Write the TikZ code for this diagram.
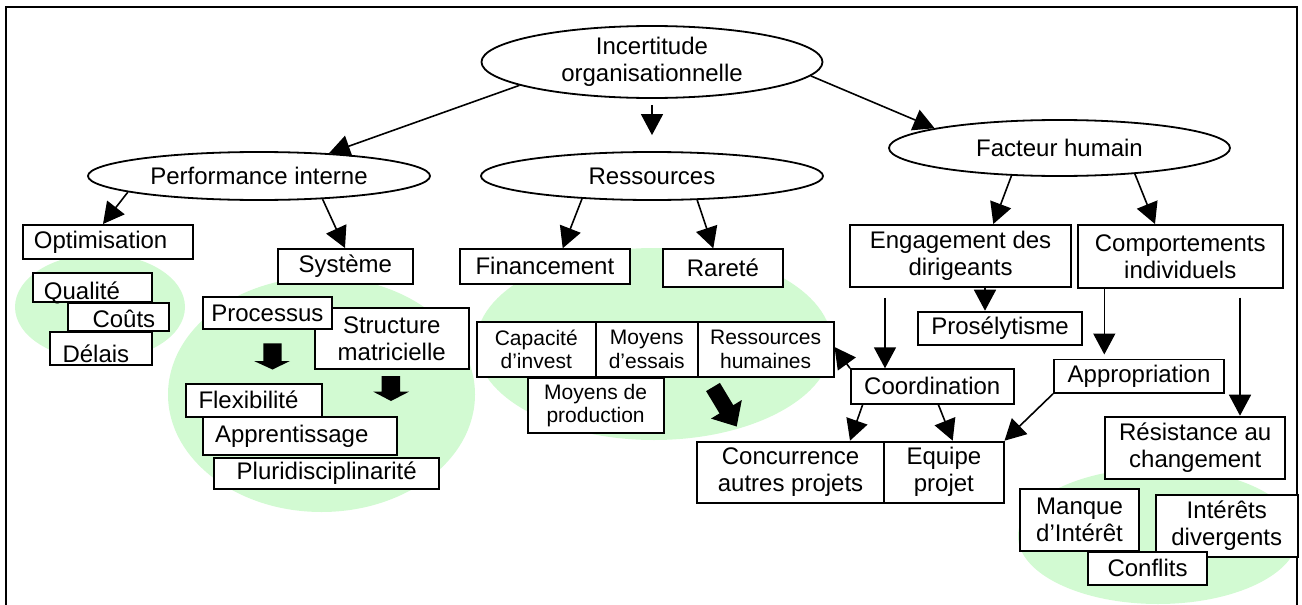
\documentclass[tikz,border=0pt]{standalone}
\usepackage{fontspec}
\setmainfont{Liberation Sans}
\usetikzlibrary{shapes.geometric,arrows.meta,calc}
\definecolor{pale}{RGB}{210,250,210}
\begin{document}
\begin{tikzpicture}[x=0.5pt,y=-0.5pt,
  every node/.style={font=\fontsize{12pt}{13.5pt}\selectfont},
  bx/.style={draw, fill=white, line width=0.9pt, inner sep=0pt, anchor=north west, align=center},
  sm/.style={font=\fontsize{10.5pt}{11.8pt}\selectfont},
  el/.style={ellipse, draw, fill=white, line width=0.9pt, inner sep=0pt, align=center},
  arr/.style={line width=0.8pt, -{Triangle[length=10.5pt,width=11pt]}}]
\useasboundingbox (0,0) rectangle (1302,605);
% green backgrounds
\fill[pale] (100,307) ellipse [x radius=42.5pt, y radius=26.5pt];
\fill[pale] (321.5,394.5) ellipse [x radius=76.75pt, y radius=58.75pt];
\fill[pale] (654,344) ellipse [x radius=89pt, y radius=48pt];
\fill[pale] (1158,536) ellipse [x radius=70pt, y radius=34pt];
% frame
\draw[line width=1pt] (6,606) -- (6,7) -- (1297,7) -- (1297,606);
% ellipses
\node[el, minimum width=170.5pt, minimum height=36pt] (inc) at (652,62) {Incertitude\\organisationnelle};
\node[el, minimum width=171pt, minimum height=24pt] (perf) at (259,176) {Performance interne};
\node[el, minimum width=171pt, minimum height=24pt] (res) at (652,176) {Ressources};
\node[el, minimum width=170.5pt, minimum height=28pt] (fac) at (1059.5,148) {Facteur humain};
% left group
\node[bx, minimum width=85pt, minimum height=17pt, text width=74pt, inner xsep=5.5pt, align=left] (opt) at (22,224) {Optimisation};
\node[bx, minimum width=59.5pt, minimum height=14.5pt, text width=48.5pt, inner xsep=5.5pt, align=left, text height=13.5pt, text depth=1pt] (qua) at (32,272) {Qualité};
\node[bx, minimum width=50.8pt, minimum height=14.2pt, text width=36.8pt, inner xsep=7pt, align=right, text height=12.6pt, text depth=1.6pt] (cou) at (66.7,301.7) {Coûts};
\node[bx, minimum width=50.85pt, minimum height=16.65pt, text width=38.25pt, inner xsep=6.3pt, align=left, text height=15.5pt, text depth=1.15pt] (del) at (49,330.7) {Délais};
% system group
\node[bx, minimum width=67.5pt, minimum height=17.5pt] (sys) at (277,248) {Système};
\node[bx, minimum width=76.85pt, minimum height=30.8pt] (str) at (314,306.7) {Structure\\matricielle};
\node[bx, minimum width=64.5pt, minimum height=16pt] (pro) at (202,296) {Processus};
\node[bx, minimum width=67.85pt, minimum height=16.65pt, text width=55.25pt, inner xsep=6.3pt, align=left] (fle) at (185,382.7) {Flexibilité};
\node[bx, minimum width=97pt, minimum height=19.15pt, text width=84.6pt, inner xsep=6.2pt, align=left] (app2) at (201.7,416) {Apprentissage};
\node[bx, minimum width=112.5pt, minimum height=15.5pt] (plu) at (213.3,456.7) {Pluridisciplinarité};
% resources group
\node[bx, minimum width=85pt, minimum height=17.2pt] (fin) at (459,248.3) {Financement};
\node[bx, minimum width=59.7pt, minimum height=18.85pt] (rar) at (662.3,248.3) {Rareté};
\node[bx, sm, minimum width=59.65pt, minimum height=27.65pt] (cap) at (475.7,320.7) {Capacité\\d’invest};
\node[bx, sm, minimum width=50.85pt, minimum height=27.65pt] (ess) at (595,320.7) {Moyens\\d’essais};
\node[bx, sm, minimum width=68pt, minimum height=27.65pt] (rh) at (696.7,320.7) {Ressources\\humaines};
\node[bx, sm, minimum width=68pt, minimum height=27.5pt] (prod) at (526.7,377.3) {Moyens de\\production};
% human group
\node[bx, minimum width=110.35pt, minimum height=31pt] (eng) at (849.3,224) {Engagement des\\dirigeants};
\node[bx, minimum width=102.35pt, minimum height=31.35pt] (com) at (1077,224) {Comportements\\individuels};
\node[bx, minimum width=81.85pt, minimum height=16.65pt] (pros) at (917.3,310.7) {Prosélytisme};
\node[bx, minimum width=81.35pt, minimum height=17.2pt] (coo) at (850,368.3) {Coordination};
\node[bx, minimum width=93.65pt, minimum height=30.5pt] (con) at (696,440.7) {Concurrence\\autres projets};
\node[bx, minimum width=59.7pt, minimum height=30.5pt] (equ) at (883.3,440.7) {Equipe\\projet};
\node[bx, minimum width=85.15pt, minimum height=16.75pt] (appr) at (1053,358.5) {Appropriation};
\node[bx, minimum width=90pt, minimum height=31.3pt] (resi) at (1104.3,415.7) {Résistance au\\changement};
\node[bx, minimum width=59.65pt, minimum height=30.85pt] (man) at (1019,488.3) {Manque\\d’Intérêt};
\node[bx, minimum width=70.85pt, minimum height=30.7pt] (int) at (1155,494.3) {Intérêts\\divergents};
\node[bx, minimum width=59.35pt, minimum height=16.8pt] (conf) at (1087.3,550.7) {Conflits};
% block arrows
\fill (263.3,343.3) -- (281.7,343.3) -- (281.7,361) -- (290,361) -- (272.5,369.5) -- (254,361) -- (263.3,361) -- cycle;
\fill (381.7,376) -- (400,376) -- (400,391.7) -- (409,391.7) -- (391,401) -- (373.3,391.7) -- (381.7,391.7) -- cycle;
\fill (719.9,382.9) -- (733.3,405.2) -- (741.8,400.0) -- (736.7,426.5) -- (711.0,418.6) -- (719.5,413.4) -- (706.1,391.1) -- cycle;
% connectors
\draw[arr] (inc.190) -- (perf.18);
\draw[arr, shorten <=3pt, shorten >=8pt] (inc.south) -- (res.north);
\draw[arr] (inc.-5) -- (fac.171);
\draw[arr] (perf.187) -- ($(opt.north west)+(40.5pt,0)$);
\draw[arr] (perf.-20) -- ($(sys.north west)+(34pt,0)$);
\draw[arr] (res.198) -- ($(fin.north west)+(51.85pt,0)$);
\draw[arr] (res.-28) -- ($(rar.north west)+(25.5pt,0)$);
\draw[arr] (fac.210) -- ($(eng.north west)+(72pt,0)$);
\draw[arr] (fac.-19) -- ($(com.north west)+(39pt,0)$);
\draw[arr] ($(eng.south west)+(67.85pt,0)$) -- ($(pros.north west)+(33.85pt,0)$);
\draw[arr, shorten <=5pt] ($(eng.south west)+(17.85pt,0)$) -- ($(coo.north west)+(17.5pt,0)$);
\draw[arr] (coo.north west) -- ($(rh.north east)+(0,-13.15pt)$);
\draw[arr] ($(coo.south west)+(6.35pt,0)$) -- ($(con.north west)+(77pt,0)$);
\draw[arr] ($(coo.south west)+(44.15pt,0)$) -- ($(equ.north west)+(34.7pt,0)$);
\draw[arr, shorten >=2pt] ($(com.south west)+(13.65pt,0)$) -- ($(appr.north west)+(25.65pt,0)$);
\draw[arr] (appr.south west) -- (equ.north east);
\draw[arr, shorten <=4.5pt] ($(com.south west)+(81.5pt,0)$) -- ($(resi.north west)+(67.85pt,0)$);
\end{tikzpicture}
\end{document}
